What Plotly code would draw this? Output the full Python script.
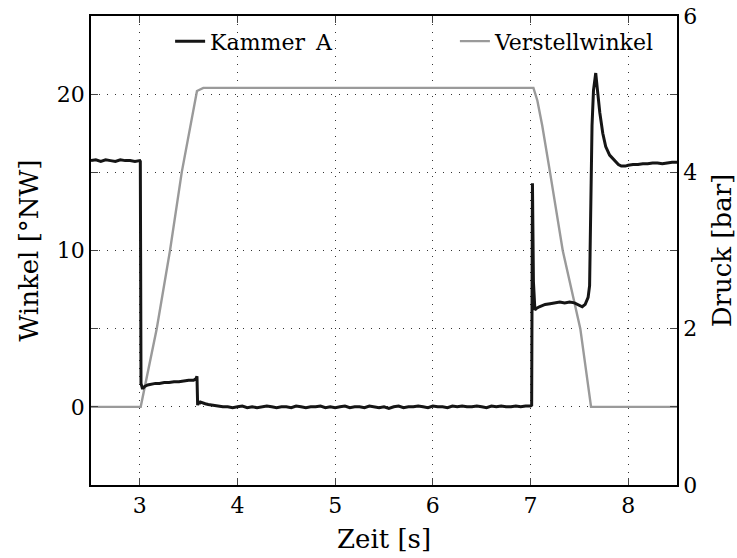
import plotly.graph_objects as go

# ---- data ----
# Verstellwinkel (left axis, deg NW)
t_winkel = [2.50, 3.009, 3.173, 3.309, 3.429, 3.506, 3.585, 3.65, 7.03, 7.07, 7.12, 7.20, 7.33, 7.51, 7.62, 8.50]
winkel = [0.0, 0.0, 5.0, 10.0, 15.0, 17.7, 20.2, 20.4, 20.4, 19.6, 18.0, 15.0, 10.0, 5.0, 0.0, 0.0]

# Kammer A pressure (right axis, bar)
t_kammer = [
    2.50, 2.55, 2.60, 2.65, 2.70, 2.75, 2.80, 2.85, 2.90, 2.95, 3.00, 3.005,
    3.012, 3.025, 3.035, 3.05, 3.08, 3.12, 3.16, 3.20, 3.25, 3.30, 3.35, 3.40,
    3.45, 3.50, 3.55, 3.575, 3.585, 3.592, 3.60, 3.61, 3.62, 3.64, 3.67, 3.70,
    3.75, 3.80, 3.85,
    3.90, 3.95, 4.00, 4.05, 4.10, 4.15, 4.20, 4.25, 4.30, 4.35,
    4.40, 4.45, 4.50, 4.55, 4.60, 4.65, 4.70, 4.75, 4.80, 4.85,
    4.90, 4.95, 5.00, 5.05, 5.10, 5.15, 5.20, 5.25, 5.30, 5.35,
    5.40, 5.45, 5.50, 5.55, 5.60, 5.65, 5.70, 5.75, 5.80, 5.85,
    5.90, 5.95, 6.00, 6.05, 6.10, 6.15, 6.20, 6.25, 6.30, 6.35,
    6.40, 6.45, 6.50, 6.55, 6.60, 6.65, 6.70, 6.75, 6.80, 6.85,
    6.90, 6.95, 7.00,
    7.012, 7.020, 7.030, 7.045, 7.06, 7.09, 7.12, 7.15, 7.20, 7.25,
    7.30, 7.35, 7.40, 7.45, 7.48, 7.50, 7.53, 7.56, 7.59, 7.605,
    7.61, 7.62, 7.63, 7.645, 7.66, 7.668, 7.68, 7.70, 7.71, 7.74,
    7.77, 7.81, 7.86, 7.90, 7.93, 7.97, 8.00, 8.05, 8.10, 8.15,
    8.20, 8.25, 8.30, 8.35, 8.40, 8.45, 8.50,
]
druck = [
    4.15, 4.16, 4.14, 4.16, 4.15, 4.14, 4.16, 4.15, 4.15, 4.14, 4.15, 4.14,
    1.30, 1.24, 1.24, 1.26, 1.28, 1.29, 1.30, 1.30, 1.31, 1.31, 1.32, 1.32,
    1.33, 1.34, 1.34, 1.36, 1.39, 1.02, 1.07, 1.04, 1.06, 1.05, 1.04, 1.03,
    1.02, 1.01, 1.00,
    1.00, 0.99, 1.00, 1.01, 0.99, 1.00, 0.99, 1.00, 1.01, 1.00,
    0.99, 1.00, 1.00, 0.99, 1.01, 1.00, 0.99, 1.00, 1.00, 1.01,
    0.99, 1.00, 0.99, 1.00, 1.01, 0.99, 1.00, 1.00, 0.99, 1.01,
    1.00, 0.99, 1.00, 0.98, 1.00, 1.01, 0.99, 1.00, 1.00, 1.01,
    1.00, 0.99, 1.01, 1.00, 1.00, 0.99, 1.01, 1.00, 1.01, 1.00,
    1.00, 1.01, 1.00, 0.99, 1.01, 1.00, 1.01, 1.00, 1.00, 1.01,
    1.00, 1.01, 1.01,
    1.02, 3.86, 2.60, 2.24, 2.26, 2.28, 2.30, 2.31, 2.32, 2.33,
    2.34, 2.33, 2.34, 2.33, 2.31, 2.29, 2.28, 2.31, 2.40, 2.55,
    3.00, 4.00, 4.60, 5.05, 5.25, 5.27, 5.12, 4.85, 4.76, 4.50,
    4.33, 4.22, 4.15, 4.10, 4.08, 4.08, 4.09, 4.10, 4.10, 4.11,
    4.11, 4.12, 4.12, 4.11, 4.12, 4.13, 4.13,
]

x_ticks = [3, 4, 5, 6, 7, 8]
y1_ticks = [0, 5, 10, 15, 20]
y1_labels = ["0", "", "10", "", "20"]
y2_ticks = [0, 1, 2, 3, 4, 5, 6]
y2_labels = ["0", "", "2", "", "4", "", "6"]

FONT = "DejaVu Serif"
FS = 22

fig = go.Figure()
fig.add_trace(go.Scatter(
    x=t_kammer, y=druck, name="Kammer\u2002A", yaxis="y2", mode="lines",
    line=dict(color="#151515", width=3.0), legend="legend",
))
fig.add_trace(go.Scatter(
    x=t_winkel, y=winkel, name="Verstellwinkel", yaxis="y", mode="lines",
    line=dict(color="#9a9a9a", width=2.4), legend="legend2",
))

grid = dict(showgrid=True, gridcolor="#333333", gridwidth=1, griddash="1px,7px")
leg_common = dict(
    orientation="h", yanchor="middle", xanchor="left",
    bgcolor="rgba(0,0,0,0)", font=dict(family=FONT, size=FS, color="black"),
)

fig.update_layout(
    width=737, height=558,
    margin=dict(l=91, r=60, t=16, b=73, autoexpand=False),
    paper_bgcolor="white", plot_bgcolor="white",
    font=dict(family=FONT, size=FS, color="black"),
    showlegend=True,
    legend=dict(x=0.135, y=0.946, **leg_common),
    legend2=dict(x=0.621, y=0.946, **leg_common),
    xaxis=dict(
        range=[2.5, 8.5], tickvals=x_ticks, ticks="inside", ticklen=7,
        showline=True, linecolor="black", linewidth=1.5, mirror="ticks",
        zeroline=False, title=dict(text="Zeit [s]", standoff=13),
        tickfont=dict(family=FONT, size=FS), automargin=False,
        **grid,
    ),
    yaxis=dict(
        range=[-5, 25], tickvals=y1_ticks, ticktext=y1_labels, ticks="inside",
        ticklen=7, showline=True, linecolor="black", linewidth=1.5,
        zeroline=False, title=dict(text="Winkel [°NW]", standoff=11),
        tickfont=dict(family=FONT, size=FS), automargin=False,
        **grid,
    ),
    yaxis2=dict(
        range=[0, 6], tickvals=y2_ticks, ticktext=y2_labels, ticks="inside",
        ticklen=7, showline=True, linecolor="black", linewidth=1.5,
        overlaying="y", side="right", showgrid=False, zeroline=False,
        title=dict(text="Druck [bar]", standoff=18),
        tickfont=dict(family=FONT, size=FS), automargin=False,
    ),
)

fig.write_html("out.html")
